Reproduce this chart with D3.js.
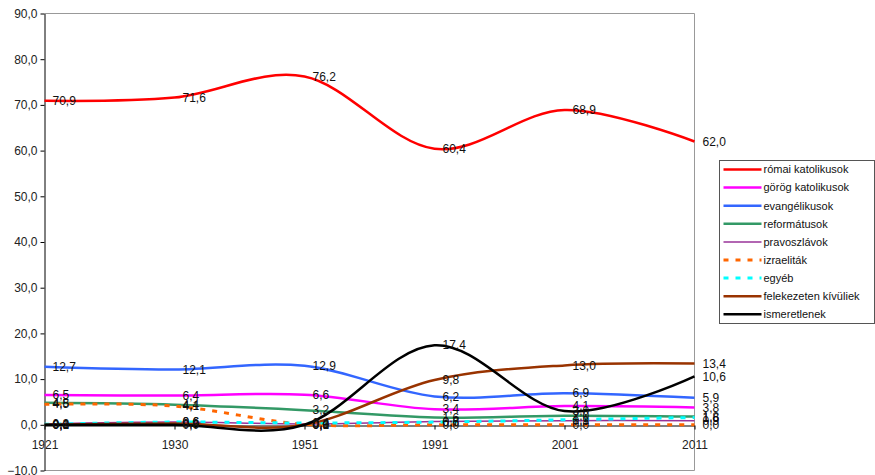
<!DOCTYPE html>
<html>
<head>
<meta charset="utf-8">
<script src="https://cdn.jsdelivr.net/npm/d3@7"></script>
<style>
  html, body { margin: 0; padding: 0; background: #fff; }
  svg { display: block; font-family: "Liberation Sans", Arial, sans-serif; }
</style>
</head>
<body>
<div id="chart"></div>
<script>
// Census years (categories)
const years = ['1921', '1930', '1951', '1991', '2001', '2011'];

// Share of population by denomination, %
const romaiKatolikusok = [70.9, 71.6, 76.2, 60.4, 68.9, 62.0];
const gorogKatolikusok = [6.5, 6.4, 6.6, 3.4, 4.1, 3.8];
const evangelikusok = [12.7, 12.1, 12.9, 6.2, 6.9, 5.9];
const reformatusok = [4.8, 4.4, 3.2, 1.6, 2.0, 1.8];
const pravoszlavok = [0.2, 0.6, 0.2, 0.7, 0.9, 0.9];
const izraelitak = [4.5, 4.1, 0.1, 0.0, 0.0, 0.0];
const egyeb = [0.1, 0.6, 0.4, 0.6, 1.1, 1.6];
const felekezetenKivuliek = [0.0, 0.3, 0.0, 9.8, 13.0, 13.4];
const ismeretlenek = [0.0, 0.0, 0.0, 17.4, 3.0, 10.6];

const yTicks = [-10, 0, 10, 20, 30, 40, 50, 60, 70, 80, 90];

const series = [
  { name: 'római katolikusok', values: romaiKatolikusok, color: '#ff0000', width: 2.5 },
  { name: 'görög katolikusok', values: gorogKatolikusok, color: '#ff00ff', width: 2.5 },
  { name: 'evangélikusok', values: evangelikusok, color: '#3366ff', width: 2.5 },
  { name: 'reformátusok', values: reformatusok, color: '#339966', width: 2.5 },
  { name: 'pravoszlávok', values: pravoszlavok, color: '#993399', width: 1.5 },
  { name: 'izraeliták', values: izraelitak, color: '#ff6600', width: 3, dash: '5,7' },
  { name: 'egyéb', values: egyeb, color: '#00ffff', width: 3, dash: '5,7' },
  { name: 'felekezeten kívüliek', values: felekezetenKivuliek, color: '#993300', width: 2.5 },
  { name: 'ismeretlenek', values: ismeretlenek, color: '#000000', width: 2.5 }
];

const W = 875;
const H = 475;
const plot = { left: 44.5, right: 694.5, top: 13.5, bottom: 470.5 };

const fmt = (v) => d3.format('.1f')(v).replace('.', ',');

const svg = d3.select('#chart')
  .append('svg')
  .attr('width', W)
  .attr('height', H)
  .attr('viewBox', [0, 0, W, H]);

const x = d3.scalePoint().domain(years).range([plot.left, plot.right]);
const y = d3.scaleLinear().domain([-10, 90]).range([plot.bottom, plot.top]);

// plot frame (grey top/right/bottom)
svg.append('path')
  .attr('d', `M${plot.left},${plot.top}H${plot.right}V${plot.bottom}H${plot.left}`)
  .attr('fill', 'none')
  .attr('stroke', '#999')
  .attr('stroke-width', 1);

// y axis
const yAxis = svg.append('g')
  .attr('transform', `translate(${plot.left},0)`)
  .call(d3.axisLeft(y).tickValues(yTicks).tickSize(4).tickSizeOuter(0).tickFormat(fmt));
yAxis.select('.domain').attr('stroke', '#000');
yAxis.selectAll('.tick line').attr('stroke', '#000');
yAxis.selectAll('.tick text')
  .attr('x', -7)
  .attr('font-size', 12)
  .attr('font-family', '"Liberation Sans", Arial, sans-serif')
  .attr('fill', '#222');

// x axis at y = 0
const xAxis = svg.append('g')
  .attr('transform', `translate(0,${Math.round(y(0)) + 0.5})`)
  .call(d3.axisBottom(x).tickSize(4).tickSizeOuter(0));
xAxis.select('.domain').attr('stroke', '#000');
xAxis.selectAll('.tick line').attr('stroke', '#000');
xAxis.selectAll('.tick text')
  .attr('y', 23)
  .attr('dy', 0)
  .attr('font-size', 12)
  .attr('font-family', '"Liberation Sans", Arial, sans-serif')
  .attr('fill', '#222');

const line = d3.line()
  .x((d, i) => x(years[i]))
  .y((d) => y(d))
  .curve(d3.curveCardinal.tension(0));

svg.append('g')
  .selectAll('path')
  .data(series)
  .join('path')
  .attr('d', (s) => line(s.values))
  .attr('fill', 'none')
  .attr('stroke', (s) => s.color)
  .attr('stroke-width', (s) => s.width)
  .attr('stroke-dasharray', (s) => s.dash || null)
  .attr('stroke-linejoin', 'round');

// data labels, right of each point
const labels = series.flatMap((s) => s.values.map((v, i) => ({ v, year: years[i] })));
svg.append('g')
  .selectAll('text')
  .data(labels)
  .join('text')
  .attr('x', (d) => x(d.year) + 8)
  .attr('y', (d) => y(d.v))
  .attr('dy', '0.35em')
  .attr('font-size', 12)
  .attr('fill', '#111')
  .text((d) => fmt(d.v));

// legend
const legend = svg.append('g').attr('transform', 'translate(719.5,160.5)');
legend.append('rect')
  .attr('width', 155)
  .attr('height', 163)
  .attr('fill', '#fff')
  .attr('stroke', '#555');

const item = legend.selectAll('g.item')
  .data(series)
  .join('g')
  .attr('class', 'item')
  .attr('transform', (d, i) => `translate(0,${9 + i * 18.1})`);

item.append('line')
  .attr('x1', 4)
  .attr('x2', 42)
  .attr('stroke', (s) => s.color)
  .attr('stroke-width', (s) => s.width)
  .attr('stroke-dasharray', (s) => s.dash || null);

item.append('text')
  .attr('x', 44)
  .attr('dy', '0.35em')
  .attr('font-size', 11)
  .attr('fill', '#111')
  .text((s) => s.name);
</script>
</body>
</html>
